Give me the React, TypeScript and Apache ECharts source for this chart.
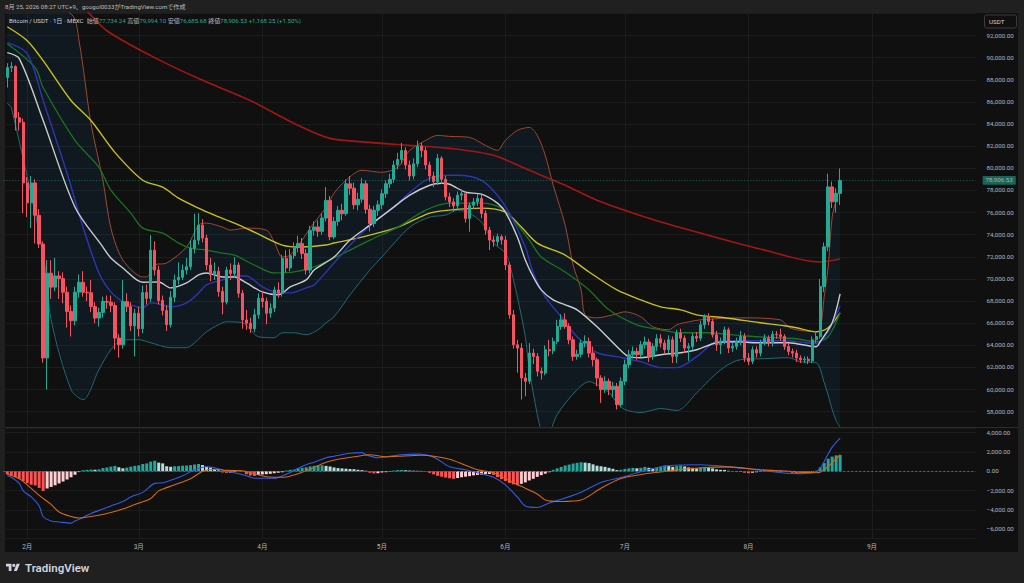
import { useEffect, useRef } from 'react';
import * as echarts from 'echarts';

// ---------- data ----------
const FIRST_DAY = '2026-01-26';
const CATEGORY_COUNT = 245;

// daily candles from 2026-01-27 to 2026-08-24: [open, close, low, high]
const candles: number[][] = [
  [88200, 89100, 87300, 89500], [89100, 89200, 88700, 89600], [89200, 84570, 83420, 89300], [84570, 84160, 83400, 85100],
  [84160, 78680, 75950, 84500], [78680, 76880, 75600, 79200], [76880, 78680, 74600, 79300], [78680, 75750, 73200, 79000],
  [75750, 73150, 72800, 76300], [73150, 62860, 62430, 73400], [62860, 70520, 60000, 71710], [70520, 69260, 68200, 71700],
  [69260, 70270, 68900, 71900], [70270, 70030, 68200, 70700], [70030, 68800, 67800, 70600], [68800, 67060, 65600, 69300],
  [67060, 66220, 64800, 67600], [66220, 68800, 65800, 69300], [68800, 69700, 68300, 70400], [69700, 68800, 68400, 70700],
  [68800, 68750, 68000, 69300], [68750, 67510, 67000, 69900], [67510, 66460, 66000, 67900], [66460, 66970, 65700, 67400],
  [66970, 67960, 66500, 68400], [67960, 67900, 67300, 68500], [67900, 67600, 67000, 68500], [67600, 64660, 63600, 67900],
  [64660, 64050, 62880, 65000], [64050, 67950, 63700, 69900], [67950, 67500, 67000, 68700], [67500, 65760, 65300, 67900],
  [65760, 66900, 63000, 67300], [66900, 65500, 64800, 67500], [65500, 68770, 65100, 69400], [68770, 68240, 67700, 69500],
  [68240, 72600, 67900, 73960], [72600, 70800, 70300, 73400], [70800, 68050, 67700, 71200], [68050, 67140, 66700, 68500],
  [67140, 65860, 65300, 67600], [65860, 68350, 65600, 68900], [68350, 69910, 67900, 70400], [69910, 70150, 69500, 71500],
  [70150, 70800, 69900, 71300], [70800, 71100, 70400, 71900], [71100, 72770, 70800, 73500], [72770, 73500, 72300, 75900],
  [73500, 74860, 73100, 75950], [74860, 73700, 73300, 75400], [73700, 71260, 70800, 74000], [71260, 70360, 69800, 71900],
  [70360, 70700, 69900, 71500], [70700, 68860, 68400, 71100], [68860, 67900, 66800, 69300], [67900, 70810, 67700, 71100],
  [70810, 70500, 69900, 71400], [70500, 71260, 70100, 71980], [71260, 68700, 68300, 71500], [68700, 66300, 65500, 69000],
  [66300, 66000, 65400, 67200], [66000, 65500, 65130, 66500], [65500, 66760, 65200, 67300], [66760, 68260, 66400, 68700],
  [68260, 67960, 67400, 68900], [67960, 66900, 65900, 68300], [66900, 67360, 66500, 67800], [67360, 69010, 67000, 69300],
  [69010, 68700, 68300, 69700], [68700, 71860, 68400, 72200], [71860, 71000, 70600, 72600], [71000, 72100, 70700, 72700],
  [72100, 72900, 71800, 73300], [72900, 73200, 72400, 73900], [73200, 72300, 71800, 73700], [72300, 70800, 70400, 72700],
  [70800, 74400, 70500, 74800], [74400, 74700, 73900, 75200], [74700, 74300, 73800, 75300], [74300, 75500, 74000, 75900],
  [75500, 77100, 75200, 78300], [77100, 73800, 73500, 77500], [73800, 75200, 73600, 75600], [75200, 76200, 74800, 76600],
  [76200, 75900, 75300, 76800], [75900, 78600, 75700, 79000], [78600, 78200, 77600, 79300], [78200, 76700, 76300, 78700],
  [76700, 77200, 76200, 77800], [77200, 78600, 76900, 79100], [78600, 76300, 75900, 78900], [76300, 75000, 74300, 76700],
  [75000, 76200, 74700, 76600], [76200, 76700, 75700, 77100], [76700, 77700, 76300, 78100], [77700, 78600, 77300, 78900],
  [78600, 79000, 78200, 79500], [79000, 80300, 78700, 80700], [80300, 80800, 79900, 81400], [80800, 81600, 80400, 82300],
  [81600, 80300, 79900, 81900], [80300, 79300, 78900, 80700], [79300, 80400, 79000, 80900], [80400, 82000, 80100, 82500],
  [82000, 81600, 81000, 82300], [81600, 80300, 79900, 81900], [80300, 79300, 78800, 80600], [79300, 78800, 78300, 79700],
  [78800, 80900, 78500, 81300], [80900, 79000, 78600, 81100], [79000, 77420, 77100, 79300], [77420, 76960, 76500, 77800],
  [76960, 76600, 76100, 77300], [76600, 77570, 76300, 77900], [77570, 77700, 77100, 78100], [77700, 75470, 75100, 77900],
  [75470, 76660, 74260, 76900], [76660, 76960, 76300, 77300], [76960, 77270, 76600, 77700], [77270, 75920, 75500, 77600],
  [75920, 74420, 74000, 76200], [74420, 73520, 72610, 74700], [73520, 73370, 72900, 73900], [73370, 73820, 73000, 74100],
  [73820, 73520, 73100, 74000], [73520, 71260, 70800, 73900], [71260, 66760, 66400, 71500], [66760, 64050, 63700, 67200],
  [64050, 63750, 61530, 64500], [63750, 61050, 59100, 64200], [61050, 60750, 59400, 61500], [60750, 63300, 60500, 64200],
  [63300, 63000, 62300, 63700], [63000, 61650, 61200, 63300], [61650, 61500, 60900, 62000], [61500, 63600, 61300, 64000],
  [63600, 63500, 63000, 64500], [63500, 64350, 63200, 64700], [64350, 65700, 64100, 66300], [65700, 66300, 65400, 66800],
  [66300, 65700, 65500, 66900], [65700, 64500, 64100, 66000], [64500, 63000, 62600, 64800], [63000, 63200, 62700, 63600],
  [63200, 64200, 62900, 64500], [64200, 64350, 63800, 64900], [64350, 63300, 62900, 64700], [63300, 62700, 62100, 63900],
  [62700, 61050, 60300, 62900], [61050, 60000, 58800, 61300], [60000, 60750, 59700, 61200], [60750, 60000, 59500, 61000],
  [60000, 60300, 59300, 60700], [60300, 58650, 58200, 60600], [58650, 60750, 58400, 61100], [60750, 62250, 60400, 62700],
  [62250, 63150, 61900, 63600], [63150, 63450, 62800, 63900], [63450, 63150, 62700, 63800], [63150, 64050, 62900, 64400],
  [64050, 64300, 63700, 64800], [64300, 63000, 62500, 64600], [63000, 63900, 62700, 64200], [63900, 64600, 63500, 65000],
  [64600, 64200, 63800, 65000], [64200, 63600, 63200, 64500], [63600, 64500, 63300, 64900], [64500, 63000, 62400, 64800],
  [63000, 65100, 62400, 65400], [65100, 64650, 64300, 65500], [64650, 63750, 63300, 64900], [63750, 63900, 62600, 64200],
  [63900, 64800, 63600, 65100], [64800, 64650, 64300, 65200], [64650, 65850, 64400, 66200], [65850, 66610, 65500, 66800],
  [66610, 66150, 65800, 66900], [66150, 64950, 64700, 66400], [64950, 64050, 63500, 65300], [64050, 64350, 63200, 64700],
  [64350, 65400, 64100, 65700], [65400, 63750, 63300, 65600], [63750, 63900, 63400, 64300], [63900, 64350, 63600, 64700],
  [64350, 64800, 64000, 65300], [64800, 62850, 62500, 65100], [62850, 62550, 62200, 63300], [62550, 63600, 62300, 63900],
  [63600, 63300, 62900, 63900], [63300, 64200, 63000, 64500], [64200, 64650, 64000, 65000], [64650, 64200, 63900, 64900],
  [64200, 65000, 63900, 65300], [65000, 64950, 64600, 65300], [64950, 64800, 64400, 65500], [64800, 63900, 63600, 65000],
  [63900, 63450, 63100, 64200], [63450, 63300, 62900, 63700], [63300, 62850, 62500, 63600], [62850, 62700, 62400, 63100],
  [62700, 62750, 62400, 63000], [62750, 62600, 62300, 63000], [62600, 64500, 62400, 64800], [64500, 64800, 64200, 65300],
  [64800, 69310, 64600, 70000], [69310, 72900, 68800, 73300], [72900, 78320, 72500, 79520], [78320, 76970, 76400, 78800],
  [76970, 77738.28, 76000, 78200], [77734.24, 78906.53, 76685.68, 79994.1],
];

// MACD histogram, one value per candle
const macdHist: number[] = [
  -300, -420, -600, -780, -1000, -1230, -1380, -1460, -1720, -2030,
  -1780, -1620, -1450, -1260, -1060, -850, -620, -360, -80, 120,
  150, 180, 160, 200, 330, 390, 480, 560, 420, 310,
  380, 480, 560, 620, 760, 820, 1000, 1090, 900, 820,
  520, 470, 520, 540, 580, 600, 640, 700, 760, 650,
  480, 400, 220, 100, -120, -160, -140, -60, 30, -40,
  -300, -430, -480, -380, -330, -300, -260, -200, -150, -100,
  80, 150, 180, 300, 360, 420, 500, 560, 590, 620,
  560, 500, 400, 330, 300, 270, 240, 220, 160, 120,
  60, -150, -220, -200, -120, -90, -50, 80, 130, 140,
  110, 80, 60, 50, 40, 20, -160, -320, -470, -560,
  -650, -720, -780, -700, -620, -560, -500, -420, -380, -340,
  -300, -280, -360, -600, -820, -1000, -1200, -1350, -1450, -1300,
  -1150, -950, -780, -580, -400, -250, -100, 150,
  300, 450, 600, 700, 800, 880, 940, 900, 850, 720,
  580, 520, 460, 360, 260, 120, 160, 250, 300, 350,
  310, 360, 450, 360, 300, 400, 500, 600, 560, 460,
  540, 600, 500, 400, 360, 300, 360, 450, 400, 300,
  200, 150, 140, 50, -50, -80, -60, -150, -200, -150,
  -100, -50, 30, 60, 100, 120, 80, 0, -80, -150,
  -200, -250, -230, -200, -100, 60, 400, 850, 1300, 1520,
  1650, 1700,
];

// [category index, value] readings
const macdLine: number[][] = [
  [1, -470], [2, -624], [4, -1248], [5, -2028], [7, -2652], [9, -3588], [10, -4680], [12, -5148], [14, -5242], [17, -5366],
  [18, -5148], [20, -4774], [22, -4368], [25, -3900], [27, -3588], [30, -3120], [32, -2652], [35, -2184], [38, -1248], [40, -1186],
  [42, -936], [45, -468], [48, 156], [51, 468], [53, 374], [56, 0], [58, -156], [61, -468], [63, -718], [65, -718],
  [68, -718], [71, -312], [74, 312], [76, 686], [78, 936], [81, 1404], [83, 1560], [87, 1872], [90, 1934], [91, 1716],
  [94, 1404], [97, 1560], [100, 1716], [104, 1778], [107, 1622], [109, 1248], [112, 468], [116, 156], [119, -156], [123, -624],
  [126, -1404], [129, -2652], [131, -3588], [134, -3744], [137, -3276], [140, -2900], [145, -2160], [150, -1150], [155, -650], [160, -40],
  [167, 570], [175, 670], [182, 460], [190, 110], [199, -240], [204, -60], [205, 300], [206, 1000], [207, 1800], [208, 2500],
  [209, 3000], [210, 3440],
];
const signalLine: number[][] = [
  [1, -312], [4, -780], [6, -1404], [9, -2496], [12, -3432], [14, -4212], [17, -4680], [19, -4836], [22, -4680], [26, -4368],
  [30, -3900], [33, -3432], [37, -2808], [39, -2028], [43, -1404], [47, -780], [50, 0], [53, 218], [56, 94], [60, 62],
  [63, -250], [66, -562], [70, -624], [74, -250], [77, 218], [81, 936], [84, 1248], [89, 1560], [92, 1716], [96, 1498],
  [99, 1560], [105, 1654], [108, 1560], [112, 1248], [116, 624], [119, 156], [123, -156], [126, -780], [130, -1560], [134, -2340],
  [136, -2964], [140, -3120], [145, -2970], [150, -1750], [155, -750], [160, -340], [167, 20], [175, 360], [182, 460], [190, 160],
  [199, -40], [204, -150], [205, -100], [206, 150], [207, 500], [208, 900], [209, 1300], [210, 1700],
];

const maWhite: number[][] = [
  [1, 90450], [4, 89910], [10, 84324], [18, 76486], [25, 72883], [27, 71892], [30, 70991], [35, 69700], [39, 69730], [42, 69189],
  [46, 69640], [49, 70360], [51, 70540], [55, 70180], [58, 70180], [61, 69640], [65, 68828], [69, 68558], [72, 69279], [76, 69910],
  [78, 70811], [83, 71982], [87, 73513], [92, 74865], [97, 76216], [102, 77568], [107, 78468], [110, 78648], [112, 78558], [116, 77837],
  [120, 77658], [124, 76847], [126, 76036], [129, 73783], [131, 71712], [133, 70180], [135, 69009], [138, 68108], [141, 67657], [144, 67207],
  [149, 65676], [154, 63874], [157, 62973], [160, 62883], [165, 63153], [170, 63333], [174, 63603], [179, 64234], [184, 64324], [189, 64234],
  [194, 64234], [197, 64234], [204, 63874], [205, 64324], [208, 66036], [210, 68648],
];
const maBlue: number[][] = [
  [1, 91351], [6, 90360], [10, 86126], [16, 79549], [20, 74685], [24, 70540], [27, 68828], [30, 67928], [32, 67657], [35, 67387],
  [37, 67838], [40, 67657], [42, 67477], [46, 67838], [49, 68738], [51, 69459], [55, 69910], [58, 70270], [61, 70270], [65, 69279],
  [69, 68738], [72, 68738], [76, 69189], [78, 69459], [83, 71441], [90, 74144], [99, 76847], [106, 78919], [112, 79369], [114, 79369],
  [120, 78919], [124, 77568], [127, 75946], [131, 72883], [133, 70540], [136, 68378], [140, 66577], [144, 64775], [149, 63333], [154, 62973],
  [160, 62522], [165, 61982], [169, 61982], [174, 62973], [179, 64324], [184, 64414], [191, 64414], [197, 64414], [204, 64144], [207, 65225],
  [210, 67567],
];
const maGreen: number[][] = [
  [1, 91261], [8, 89099], [10, 87297], [18, 82522], [24, 80090], [27, 78018], [32, 75946], [35, 74594], [40, 74144], [44, 73243],
  [47, 72793], [51, 72612], [55, 72342], [58, 72162], [63, 71261], [68, 70540], [73, 70630], [78, 71081], [83, 71892], [92, 73513],
  [99, 74685], [106, 76216], [112, 76847], [120, 76847], [125, 76396], [128, 75315], [132, 73513], [135, 71982], [141, 70630], [147, 69009],
  [152, 67207], [159, 65856], [165, 65405], [170, 65135], [177, 65135], [185, 64865], [194, 64685], [199, 64595], [204, 64324], [207, 64775],
  [210, 66937],
];
const maYellow: number[][] = [
  [1, 92792], [6, 91531], [10, 89730], [17, 86126], [22, 84324], [28, 81441], [35, 78919], [40, 78288], [44, 77297], [49, 76396],
  [53, 75766], [58, 75045], [63, 74234], [70, 73063], [75, 72883], [81, 73063], [83, 73243], [90, 73783], [99, 74685], [107, 75946],
  [112, 76216], [120, 76396], [126, 76036], [130, 74685], [134, 73243], [141, 72162], [147, 70630], [154, 69009], [160, 68108], [165, 67477],
  [170, 67207], [174, 66757], [181, 66486], [190, 66036], [196, 65766], [199, 65585], [204, 65225], [207, 65585], [210, 66937],
];
const maRed: number[][] = [
  [1, 101500], [11, 97800], [21, 94200], [26, 92432], [37, 90180], [49, 88108], [62, 86126], [74, 83874], [82, 82703], [92, 82342],
  [102, 82072], [112, 81802], [123, 81171], [132, 79820], [141, 78468], [149, 77117], [162, 75495], [175, 74144], [190, 72703], [205, 71531],
  [210, 71802],
];
const bbUpper: number[][] = [
  [1, 96846], [17, 93964], [19, 91531], [22, 84054], [25, 78919], [27, 74594], [30, 71712], [35, 70180], [36, 70180], [38, 71261],
  [41, 71441], [46, 72883], [49, 74865], [51, 75045], [55, 74685], [57, 74414], [61, 74594], [66, 74414], [68, 73333], [70, 71982],
  [72, 72162], [75, 73513], [77, 74594], [81, 76486], [83, 77748], [86, 78919], [90, 79820], [95, 79640], [99, 80090], [102, 81622],
  [106, 82522], [109, 82973], [112, 82883], [117, 82793], [121, 82072], [124, 81622], [126, 82522], [129, 83423], [132, 83694], [134, 82973],
  [136, 81171], [138, 78468], [141, 74865], [143, 71261], [145, 69009], [146, 66757], [149, 66486], [153, 66757], [156, 67027], [160, 66577],
  [163, 65676], [167, 65405], [169, 65856], [172, 66126], [175, 66306], [185, 66486], [195, 66306], [197, 65676], [199, 65405], [204, 65225],
  [205, 65405], [206, 68378], [207, 71081], [208, 75585], [209, 77117], [210, 78288],
];
const bbLower: number[][] = [
  [1, 85856], [2, 85495], [10, 72342], [12, 66306], [17, 60000], [20, 59099], [24, 61802], [27, 63603], [30, 64504], [34, 64504],
  [37, 64234], [42, 63784], [46, 63784], [48, 64234], [51, 65225], [54, 65856], [56, 66126], [60, 66036], [62, 65405], [64, 64775],
  [68, 64685], [70, 65135], [73, 65135], [76, 64955], [79, 65405], [81, 66036], [83, 66577], [87, 68558], [92, 70811], [95, 71982],
  [102, 74685], [107, 75585], [111, 75766], [114, 76216], [117, 75946], [120, 75135], [121, 74594], [123, 73243], [126, 72342], [127, 71441],
  [129, 68378], [131, 64775], [132, 61802], [134, 57748], [135, 56300], [136, 55600], [137, 56000], [139, 57748], [144, 60000], [147, 60721],
  [149, 60450], [152, 59730], [154, 58828], [156, 58198], [160, 57927], [165, 58288], [169, 58108], [174, 59700], [177, 60800], [181, 62050],
  [185, 62703], [191, 62793], [197, 62883], [200, 62522], [204, 62432], [206, 60630], [207, 59500], [208, 58198], [209, 57200], [210, 56600],
];

const LAST_PRICE = 78906.53;
const TITLE_LINE = '8月 25, 2026 08:27 UTC+9、googol0033がTradingView.comで作成';
const SYMBOL_TEXT = 'Bitcoin / USDT · 1日 · MEXC';
const OHLC_TEXT = [
  ['始値', '77,734.24'],
  ['高値', '79,994.10'],
  ['安値', '76,685.68'],
  ['終値', '78,906.53'],
];
const CHANGE_TEXT = '+1,168.25 (+1.50%)';

// ---------- styling ----------
const FONT = 'Roboto, "Noto Sans CJK JP", "DejaVu Sans", sans-serif';
const UP = '#22ab94';
const DOWN = '#f7525f';
const GRID = '#1c1c1c';
const AXIS_TEXT = '#b2b5be';

echarts.graphic.registerShape(
  'tvLogo',
  echarts.graphic.extendPath('M14 22H7V11H0V4h14v18zM28 22h-8l7.5-18h8L28 22z', {})
);

function makeCategories(): string[] {
  const start = Date.parse(FIRST_DAY + 'T00:00:00Z');
  const out: string[] = [];
  for (let i = 0; i < CATEGORY_COUNT; i++) {
    out.push(new Date(start + i * 86400000).toISOString().slice(0, 10));
  }
  return out;
}

function fmtNum(v: number): string {
  const s = Math.abs(v).toLocaleString('en-US', { minimumFractionDigits: 2, maximumFractionDigits: 2 });
  return v < 0 ? '\u2212' + s : s;
}

const isMonthStart = (_i: number, value: string) => typeof value === 'string' && value.endsWith('-01');

function lineSeries(data: number[][], color: string, width: number, z = 2) {
  return {
    type: 'line',
    xAxisIndex: 0,
    yAxisIndex: 0,
    data,
    symbol: 'none',
    showSymbol: false,
    smooth: 0.3,
    silent: true,
    z,
    lineStyle: { color, width },
  };
}

export default function App() {
  const ref = useRef<HTMLDivElement>(null);

  useEffect(() => {
    if (!ref.current) return;
    const chart = echarts.init(ref.current, null, { renderer: 'svg' });
    const cats = makeCategories();

    const candleData = candles.map((c, k) => [k + 1, c[0], c[1], c[2], c[3]]);
    const histData = macdHist.map((v, k) => [k + 1, v]);

    const ohlcRich = OHLC_TEXT.map(([l, v]) => `{g|${l}}{v|${v}}`).join(' ');
    const legendText = `{w|${SYMBOL_TEXT}}  ${ohlcRich} {v|${CHANGE_TEXT}}`;
    const LEG_FS = 6.1;

    const option: any = {
      animation: false,
      backgroundColor: '#202020',
      textStyle: { fontFamily: FONT },
      grid: [
        { left: 3.3, right: 48.4, top: 13, height: 414 },
        { left: 3.3, right: 48.4, top: 428, height: 110 },
      ],
      xAxis: [
        {
          type: 'category', gridIndex: 0, data: cats, boundaryGap: false,
          axisLine: { show: false }, axisTick: { show: false }, axisLabel: { show: false },
          splitLine: { show: true, interval: isMonthStart, lineStyle: { color: GRID, width: 1 } },
        },
        {
          type: 'category', gridIndex: 1, data: cats, boundaryGap: false,
          axisLine: { show: false }, axisTick: { show: false },
          axisLabel: {
            interval: isMonthStart,
            formatter: (v: string) => `${parseInt(v.slice(5, 7), 10)}月`,
            color: AXIS_TEXT, fontSize: 6.5, margin: 6, fontFamily: FONT,
          },
          splitLine: { show: true, interval: isMonthStart, lineStyle: { color: GRID, width: 1 } },
        },
      ],
      yAxis: [
        {
          type: 'value', gridIndex: 0, position: 'right', min: 56618, max: 94036,
          splitNumber: 18, minInterval: 2000, maxInterval: 2000,
          axisLine: { show: false }, axisTick: { show: false },
          axisLabel: {
            color: AXIS_TEXT, fontSize: 6.2, margin: 11, fontFamily: FONT,
            formatter: (v: number) => (Math.round(v) % 2000 === 0 && v <= 92000 ? fmtNum(v) : ''),
          },
          splitLine: { show: true, lineStyle: { color: GRID, width: 1 } },
        },
        {
          type: 'value', gridIndex: 1, position: 'right', min: -6905, max: 4482,
          splitNumber: 6, minInterval: 2000, maxInterval: 2000,
          axisLine: { show: false }, axisTick: { show: false },
          axisLabel: {
            color: AXIS_TEXT, fontSize: 6.2, margin: 11, fontFamily: FONT,
            formatter: (v: number) => (Math.round(v) % 2000 === 0 ? fmtNum(v) : ''),
          },
          splitLine: { show: true, lineStyle: { color: GRID, width: 1 } },
        },
      ],
      series: [
        {
          type: 'custom',
          xAxisIndex: 0,
          yAxisIndex: 0,
          silent: true,
          z: 1,
          data: [[1, 70000]],
          renderItem: (params: any, api: any) => {
            const pts: number[][] = [];
            bbUpper.forEach((p) => pts.push(api.coord([p[0], p[1]])));
            for (let j = bbLower.length - 1; j >= 0; j--) pts.push(api.coord([bbLower[j][0], bbLower[j][1]]));
            const cs = params.coordSys;
            const clipped = echarts.graphic.clipPointsByRect(pts, { x: cs.x, y: cs.y, width: cs.width, height: cs.height });
            return {
              type: 'polygon',
              shape: { points: clipped },
              style: { fill: 'rgba(33,150,243,0.07)' },
              silent: true,
            };
          },
        },
        lineSeries(bbUpper, '#a0482e', 1),
        lineSeries(bbLower, '#1f6b73', 1),
        lineSeries(maRed, '#a31616', 1.6),
        lineSeries(maYellow, '#c9bf1d', 1.4),
        lineSeries(maGreen, '#1a7320', 1.3),
        lineSeries(maBlue, '#2e35b5', 1.4),
        lineSeries(maWhite, '#c9cbd1', 1.4),
        {
          type: 'candlestick',
          xAxisIndex: 0,
          yAxisIndex: 0,
          data: candleData,
          encode: { x: 0, y: [1, 2, 3, 4] },
          barWidth: '72%',
          z: 3,
          silent: true,
          itemStyle: { color: UP, color0: DOWN, borderColor: UP, borderColor0: DOWN, borderWidth: 1 },
          markLine: {
            silent: true,
            symbol: ['none', 'none'],
            animation: false,
            lineStyle: { color: UP, type: [1, 2], width: 1, opacity: 0.55 },
            label: {
              show: true,
              position: 'end',
              distance: 7,
              formatter: () => fmtNum(LAST_PRICE),
              backgroundColor: UP,
              color: '#ffffff',
              fontSize: 6.2,
              fontFamily: FONT,
              padding: [1.5, 3, 1, 3],
              borderRadius: 1,
            },
            data: [{ yAxis: LAST_PRICE }],
          },
        },
        {
          type: 'bar',
          xAxisIndex: 1,
          yAxisIndex: 1,
          data: histData,
          barWidth: '75%',
          silent: true,
          itemStyle: {
            color: (p: any) => {
              const k = p.dataIndex;
              const v = macdHist[k];
              const prev = k > 0 ? macdHist[k - 1] : v;
              if (v >= 0) return v > prev ? '#26a69a' : '#b2dfdb';
              return v > prev ? '#ffcdd2' : '#ff5252';
            },
          },
          markLine: {
            silent: true,
            symbol: ['none', 'none'],
            animation: false,
            label: { show: false },
            lineStyle: { color: '#5d606b', type: [2, 2], width: 1 },
            data: [{ yAxis: 0 }],
          },
        },
        {
          type: 'line', xAxisIndex: 1, yAxisIndex: 1, data: macdLine, symbol: 'none', smooth: 0.3, silent: true, z: 3,
          lineStyle: { color: '#2f5ce8', width: 1.1 },
        },
        {
          type: 'line', xAxisIndex: 1, yAxisIndex: 1, data: signalLine, symbol: 'none', smooth: 0.3, silent: true, z: 3,
          lineStyle: { color: '#d46b17', width: 1.1 },
        },
      ],
      graphic: [
        { type: 'rect', z: -10, silent: true, shape: { x: 5, y: 13, width: 1013, height: 539 }, style: { fill: '#101010' } },
        { type: 'line', z: 10, silent: true, shape: { x1: 5, y1: 427.5, x2: 1018, y2: 427.5 }, style: { stroke: '#2c2c2c', lineWidth: 1 } },
        {
          type: 'text', z: 10, silent: true, x: 5, y: 6.5,
          style: { text: TITLE_LINE, fill: '#bdbdbd', fontSize: 6.1, fontFamily: FONT, verticalAlign: 'middle' },
        },
        {
          type: 'text', z: 10, silent: true, x: 9, y: 20.5,
          style: {
            text: legendText,
            fontSize: LEG_FS,
            fontFamily: FONT,
            verticalAlign: 'middle',
            fill: '#d1d4dc',
            rich: {
              w: { fill: '#d1d4dc', fontSize: LEG_FS, fontFamily: FONT },
              g: { fill: '#b2b5be', fontSize: LEG_FS, fontFamily: FONT },
              v: { fill: UP, fontSize: LEG_FS, fontFamily: FONT },
            },
          },
        },
        {
          type: 'rect', z: 10, silent: true, shape: { x: 984.5, y: 15, width: 32, height: 13, r: 2 },
          style: { fill: '#101010', stroke: '#3c3c3c', lineWidth: 1 },
        },
        {
          type: 'text', z: 11, silent: true, x: 989, y: 21.5,
          style: { text: 'USDT', fill: '#d1d4dc', fontSize: 6.2, fontFamily: FONT, verticalAlign: 'middle' },
        },
        { type: 'tvLogo', z: 10, silent: true, x: 6, y: 562.3, scaleX: 0.39, scaleY: 0.39, style: { fill: '#d1d4dc' } },
        { type: 'circle', z: 10, silent: true, shape: { cx: 6 + 20 * 0.39, cy: 562.3 + 8 * 0.39, r: 4 * 0.39 }, style: { fill: '#d1d4dc' } },
        {
          type: 'text', z: 10, silent: true, x: 25, y: 567.5,
          style: { text: 'TradingView', fill: '#d1d4dc', fontSize: 11.5, fontWeight: 600, fontFamily: FONT, verticalAlign: 'middle' },
        },
      ],
    };

    chart.setOption(option);
    return () => chart.dispose();
  }, []);

  return <div ref={ref} style={{ position: 'fixed', left: 0, top: 0, width: 1024, height: 583 }} />;
}
